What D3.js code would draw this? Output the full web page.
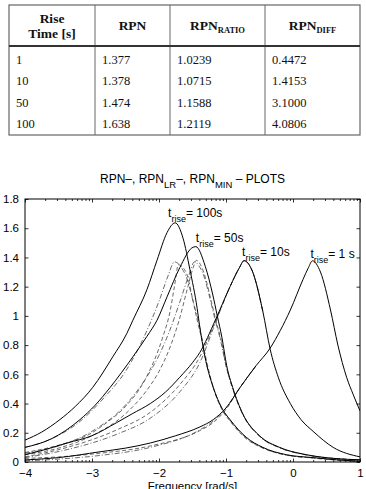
<!doctype html>
<html lang="en">
<head>
  <meta charset="utf-8" />
  <title>RPN plots</title>
  <script src="https://d3js.org/d3.v7.min.js"></script>
  <style>
    body { margin: 0; background: #fff; }
    svg { display: block; }
  </style>
</head>
<body>
  <div id="chart"></div>
  <script>
    // table values
    const riseTime = ["1", "10", "50", "100"];
    const rpnVal = ["1.377", "1.378", "1.474", "1.638"];
    const rpnRatio = ["1.0239", "1.0715", "1.1588", "1.2119"];
    const rpnDiff = ["0.4472", "1.4153", "3.1000", "4.0806"];

    // axis ticks
    const xTicks = [-4, -3, -2, -1, 0, 1];
    const yTicks = [0, 0.2, 0.4, 0.6, 0.8, 1, 1.2, 1.4, 1.6, 1.8];
    const riseLabels = ["100s", "50s", "10s", "1 s"];

    // curves: [log10 frequency, value]
    const rpn100 = [[-4, 0.15], [-3.75, 0.205], [-3.48, 0.29], [-3.25, 0.38], [-2.99, 0.51], [-2.69, 0.72], [-2.48, 0.88], [-2.39, 0.97], [-2.18, 1.18], [-2.03, 1.38], [-1.88, 1.57], [-1.76, 1.637], [-1.64, 1.53], [-1.54, 1.32], [-1.43, 1.05], [-1.39, 0.92], [-1.30, 0.69], [-1.19, 0.51], [-1.05, 0.36], [-0.94, 0.29], [-0.70, 0.17], [-0.45, 0.10], [-0.1, 0.05], [0.30, 0.03], [0.65, 0.015], [1, 0.005]];
    const rpnMin100 = [[-4, 0.10], [-3.6, 0.16], [-3.2, 0.27], [-2.8, 0.45], [-2.5, 0.62], [-2.18, 0.90], [-2.0, 1.10], [-1.86, 1.28], [-1.77, 1.37], [-1.68, 1.34], [-1.58, 1.25], [-1.48, 1.08], [-1.39, 0.92], [-1.30, 0.69], [-1.19, 0.51], [-1.05, 0.355], [-0.94, 0.285], [-0.7, 0.165], [-0.45, 0.097], [-0.1, 0.048], [0.3, 0.028], [0.65, 0.014], [1, 0.005]];
    const rpnLR100 = [[-4, 0.065], [-3.5, 0.115], [-3.0, 0.20], [-2.78, 0.27], [-2.5, 0.38], [-2.2, 0.57], [-1.94, 0.86], [-1.84, 1.02], [-1.77, 1.20], [-1.71, 1.35], [-1.64, 1.33], [-1.58, 1.28], [-1.50, 1.12], [-1.42, 0.95], [-1.36, 0.84], [-1.28, 0.67], [-1.19, 0.51], [-1.05, 0.35], [-0.94, 0.28], [-0.7, 0.16], [-0.45, 0.095], [-0.1, 0.047], [0.3, 0.027], [0.65, 0.013], [1, 0.005]];

    const rpn50 = [[-4, 0.10], [-3.6, 0.16], [-3.18, 0.29], [-2.95, 0.39], [-2.73, 0.51], [-2.39, 0.72], [-2.18, 0.86], [-2.03, 0.97], [-1.88, 1.13], [-1.69, 1.33], [-1.51, 1.465], [-1.45, 1.474], [-1.31, 1.34], [-1.20, 1.15], [-1.13, 1.00], [-1.06, 0.85], [-0.99, 0.66], [-0.90, 0.51], [-0.75, 0.33], [-0.5, 0.18], [-0.2, 0.10], [0.2, 0.05], [0.6, 0.025], [1, 0.015]];
    const rpnMin50 = [[-4, 0.06], [-3.5, 0.11], [-3, 0.21], [-2.5, 0.39], [-2.2, 0.57], [-2.0, 0.73], [-1.84, 0.90], [-1.7, 1.08], [-1.56, 1.27], [-1.47, 1.37], [-1.40, 1.34], [-1.32, 1.26], [-1.24, 1.12], [-1.16, 0.97], [-1.09, 0.85], [-1.0, 0.66], [-0.90, 0.50], [-0.75, 0.325], [-0.5, 0.175], [-0.2, 0.097], [0.2, 0.048], [0.6, 0.024], [1, 0.014]];
    const rpnLR50 = [[-4, 0.05], [-3.5, 0.095], [-3, 0.18], [-2.5, 0.33], [-2.2, 0.48], [-2.0, 0.62], [-1.84, 0.78], [-1.7, 0.97], [-1.58, 1.18], [-1.49, 1.33], [-1.44, 1.38], [-1.38, 1.35], [-1.30, 1.25], [-1.22, 1.10], [-1.14, 0.95], [-1.07, 0.83], [-1.0, 0.66], [-0.90, 0.505], [-0.75, 0.33], [-0.5, 0.178], [-0.2, 0.099], [0.2, 0.049], [0.6, 0.025], [1, 0.015]];

    const rpn10 = [[-4, 0.05], [-3.7, 0.085], [-3.37, 0.13], [-3.0, 0.18], [-2.63, 0.27], [-2.4, 0.33], [-2.13, 0.40], [-1.9, 0.48], [-1.69, 0.58], [-1.50, 0.68], [-1.39, 0.75], [-1.16, 0.97], [-0.94, 1.20], [-0.80, 1.33], [-0.73, 1.378], [-0.61, 1.31], [-0.45, 1.03], [-0.34, 0.77], [-0.22, 0.58], [-0.04, 0.40], [0.12, 0.29], [0.30, 0.21], [0.6, 0.10], [1, 0.035]];
    const rpnLR10 = [[-4, 0.035], [-3.37, 0.10], [-2.63, 0.22], [-2.13, 0.34], [-1.69, 0.53], [-1.39, 0.72], [-1.16, 0.96], [-0.94, 1.20], [-0.80, 1.33], [-0.73, 1.378], [-0.61, 1.31], [-0.45, 1.03]];
    const rpnMin10 = [[-4, 0.03], [-3.37, 0.085], [-2.63, 0.19], [-2.13, 0.30], [-1.69, 0.48], [-1.39, 0.68], [-1.16, 0.95], [-0.94, 1.20], [-0.80, 1.33], [-0.73, 1.378], [-0.61, 1.31], [-0.45, 1.03]];

    const rpn1 = [[-4, 0.014], [-3.5, 0.03], [-2.88, 0.07], [-2.5, 0.095], [-2.13, 0.13], [-1.75, 0.18], [-1.39, 0.24], [-1.19, 0.29], [-1.0, 0.37], [-0.79, 0.51], [-0.55, 0.66], [-0.34, 0.78], [-0.19, 0.90], [-0.04, 1.04], [0.15, 1.25], [0.23, 1.33], [0.29, 1.377], [0.41, 1.30], [0.56, 1.04], [0.67, 0.80], [0.80, 0.58], [0.9, 0.46], [1, 0.35]];
    const rpnLR1 = [[-4, 0.025], [-3.5, 0.035], [-2.88, 0.06], [-2.13, 0.11], [-1.39, 0.215], [-1.19, 0.27], [-1.0, 0.36], [-0.79, 0.51], [-0.55, 0.66]];
    const rpnMin1 = [[-4, 0.008], [-3.5, 0.02], [-2.88, 0.045], [-2.13, 0.10], [-1.39, 0.22], [-1.19, 0.28], [-1.0, 0.37], [-0.79, 0.51], [-0.55, 0.66]];

    const width = 366, height = 489;
    const svg = d3.select("#chart").append("svg")
      .attr("width", width)
      .attr("height", height);

    // ---------- table ----------
    const colX = [9, 95, 170, 265, 360];
    const tTop = 5, tHead = 46, tBottom = 135, rowH = 21.5;
    const tab = svg.append("g").attr("fill", "#111");

    tab.append("rect")
      .attr("x", colX[0]).attr("y", tTop)
      .attr("width", colX[4] - colX[0]).attr("height", tBottom - tTop)
      .attr("fill", "none").attr("stroke", "#666").attr("stroke-width", 1.2);
    tab.selectAll("line.col")
      .data(colX.slice(1, 4))
      .join("line")
      .attr("x1", d => d).attr("x2", d => d)
      .attr("y1", tTop).attr("y2", tBottom)
      .attr("stroke", "#666").attr("stroke-width", 1);
    tab.append("line")
      .attr("x1", colX[0]).attr("x2", colX[4])
      .attr("y1", tHead).attr("y2", tHead)
      .attr("stroke", "#333").attr("stroke-width", 1.8);

    const headFont = "'Liberation Serif', 'Times New Roman', serif";
    const head = tab.append("g")
      .style("font-family", headFont)
      .style("font-weight", "bold")
      .style("font-size", "13.5px")
      .attr("text-anchor", "middle");
    head.append("text").attr("x", (colX[0] + colX[1]) / 2).attr("y", 23).text("Rise");
    head.append("text").attr("x", (colX[0] + colX[1]) / 2).attr("y", 38).text("Time [s]");
    head.append("text").attr("x", (colX[1] + colX[2]) / 2).attr("y", 30).text("RPN");
    const hr = head.append("text").attr("x", (colX[2] + colX[3]) / 2).attr("y", 30);
    hr.append("tspan").text("RPN");
    hr.append("tspan").attr("dy", 3).style("font-size", "8.5px").text("RATIO");
    const hd = head.append("text").attr("x", (colX[3] + colX[4]) / 2).attr("y", 30);
    hd.append("tspan").text("RPN");
    hd.append("tspan").attr("dy", 3).style("font-size", "8.5px").text("DIFF");

    const cols = [riseTime, rpnVal, rpnRatio, rpnDiff];
    cols.forEach((vals, c) => {
      tab.selectAll(null)
        .data(vals)
        .join("text")
        .attr("x", colX[c] + 7)
        .attr("y", (d, i) => 63.5 + i * rowH)
        .style("font-family", headFont)
        .style("font-size", "12.5px")
        .text(d => d);
    });

    // ---------- chart ----------
    const pL = 25, pR = 360, pT = 199, pB = 462;
    const x = d3.scaleLinear().domain([-4, 1]).range([pL, pR]);
    const y = d3.scaleLinear().domain([0, 1.8]).range([pB, pT]);
    const sansFont = "'Liberation Sans', Arial, Helvetica, sans-serif";

    // minor ticks, log-spaced inside each decade
    const minor = [];
    for (let d = -4; d < 1; d++) {
      for (let m = 2; m <= 9; m++) minor.push(d + Math.log10(m));
    }

    const axG = svg.append("g")
      .style("font-family", sansFont)
      .style("font-size", "11px");

    axG.append("g")
      .attr("transform", `translate(0,${pB})`)
      .call(d3.axisBottom(x).tickValues(xTicks).tickSizeInner(-3.5).tickSizeOuter(0).tickPadding(7)
        .tickFormat(d3.format("d")));
    axG.append("g")
      .attr("transform", `translate(0,${pB})`)
      .call(d3.axisBottom(x).tickValues(minor).tickSizeInner(-2).tickSizeOuter(0).tickFormat(""));
    axG.append("g")
      .attr("transform", `translate(0,${pT})`)
      .call(d3.axisTop(x).tickValues(xTicks).tickSizeInner(-3.5).tickSizeOuter(0).tickFormat(""));
    axG.append("g")
      .attr("transform", `translate(0,${pT})`)
      .call(d3.axisTop(x).tickValues(minor).tickSizeInner(-2).tickSizeOuter(0).tickFormat(""));
    axG.append("g")
      .attr("transform", `translate(${pL},0)`)
      .call(d3.axisLeft(y).tickValues(yTicks).tickSizeInner(-3.5).tickSizeOuter(0).tickPadding(6)
        .tickFormat(d3.format("~g")));
    axG.append("g")
      .attr("transform", `translate(${pR},0)`)
      .call(d3.axisRight(y).tickValues(yTicks).tickSizeInner(-3.5).tickSizeOuter(0).tickFormat(""));

    axG.selectAll(".domain").remove();
    axG.selectAll("text").attr("fill", "#000").style("font-family", sansFont).style("font-size", "11.5px");
    axG.selectAll(".tick line").attr("stroke", "#000").attr("stroke-width", 0.8);

    svg.append("defs").append("clipPath").attr("id", "plotClip")
      .append("rect").attr("x", pL).attr("y", pT)
      .attr("width", pR - pL).attr("height", pB - pT);

    const line = d3.line()
      .x(d => x(d[0]))
      .y(d => y(d[1]))
      .curve(d3.curveMonotoneX);

    const series = [
      { d: rpnLR100, dash: "4,2.5" }, { d: rpnMin100, dash: "5,2,1,2" },
      { d: rpnLR50, dash: "4,2.5" }, { d: rpnMin50, dash: "5,2,1,2" },
      { d: rpnLR10, dash: "4,2.5" }, { d: rpnMin10, dash: "5,2,1,2" },
      { d: rpnLR1, dash: "4,2.5" }, { d: rpnMin1, dash: "5,2,1,2" },
      { d: rpn100, dash: null }, { d: rpn50, dash: null },
      { d: rpn10, dash: null }, { d: rpn1, dash: null }
    ];

    svg.append("g")
      .attr("clip-path", "url(#plotClip)")
      .selectAll("path")
      .data(series)
      .join("path")
      .attr("d", s => line(s.d))
      .attr("fill", "none")
      .attr("stroke", s => s.dash ? "#444" : "#000")
      .attr("stroke-width", s => s.dash ? 0.8 : 1)
      .attr("stroke-dasharray", s => s.dash);

    // box
    svg.append("rect")
      .attr("x", pL).attr("y", pT)
      .attr("width", pR - pL).attr("height", pB - pT)
      .attr("fill", "none").attr("stroke", "#000").attr("stroke-width", 1);

    // rise time annotations, placed just above each main peak
    const mains = [rpn100, rpn50, rpn10, rpn1];
    const offs = [[-7, -6], [0, -5], [-2, -5], [-2, -3]];
    mains.forEach((s, i) => {
      const pk = d3.greatest(s, d => d[1]);
      const t = svg.append("text")
        .attr("x", x(pk[0]) + offs[i][0])
        .attr("y", y(pk[1]) + offs[i][1])
        .style("font-family", sansFont)
        .style("font-size", "12px");
      t.append("tspan").text("t");
      t.append("tspan").attr("dy", 5).style("font-size", "9px").text("rise");
      t.append("tspan").attr("dy", -5).text("= " + riseLabels[i]);
    });

    // title
    const title = svg.append("text")
      .attr("x", (pL + pR) / 2)
      .attr("y", 183)
      .attr("text-anchor", "middle")
      .style("font-family", sansFont)
      .style("font-size", "12px");
    title.append("tspan").text("RPN\u2013, RPN");
    title.append("tspan").attr("dy", 5).style("font-size", "9.5px").text("LR");
    title.append("tspan").attr("dy", -5).text("\u2013, RPN");
    title.append("tspan").attr("dy", 5).style("font-size", "9.5px").text("MIN");
    title.append("tspan").attr("dy", -5).text(" \u2013 PLOTS");

    // x label (partly below the page edge, as in the source)
    svg.append("text")
      .attr("x", (pL + pR) / 2)
      .attr("y", 490)
      .attr("text-anchor", "middle")
      .style("font-family", sansFont)
      .style("font-size", "11.5px")
      .text("Frequency [rad/s]");
  </script>
</body>
</html>
